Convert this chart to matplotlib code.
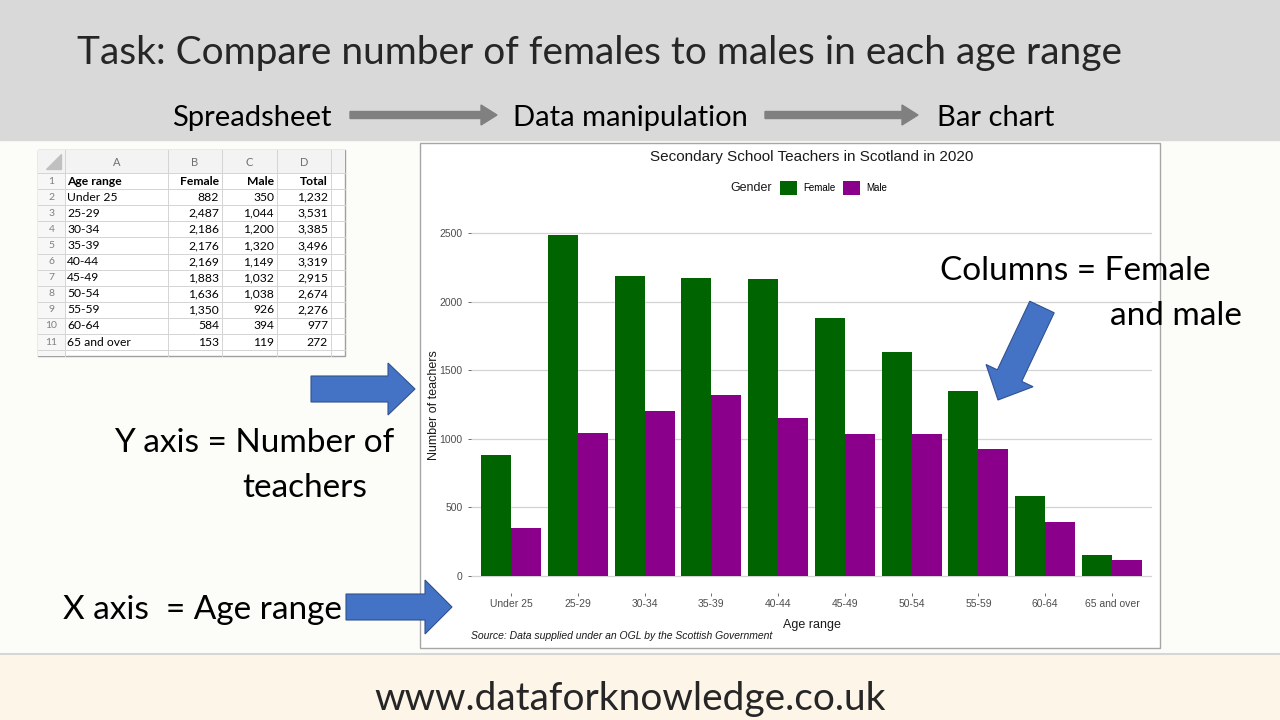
import matplotlib.pyplot as plt
import numpy as np
from matplotlib.patches import Rectangle, FancyArrow, Polygon

# data (from the spreadsheet on the slide)
ages = ['Under 25', '25-29', '30-34', '35-39', '40-44', '45-49',
        '50-54', '55-59', '60-64', '65 and over']
female = [882, 2487, 2186, 2176, 2169, 1883, 1636, 1350, 584, 153]
male = [350, 1044, 1200, 1320, 1149, 1032, 1038, 926, 394, 119]
total = [1232, 3531, 3385, 3496, 3319, 2915, 2674, 2276, 977, 272]

GREEN = '#006400'
PURPLE = '#8B008B'
BLUE = '#4472C4'
SLIDE = 'Lato'
CHART = 'Liberation Sans'

fig = plt.figure(figsize=(12.8, 7.2), dpi=100)

# background layer in pixel coords
bg = fig.add_axes([0, 0, 1, 1], zorder=0)
bg.set_xlim(0, 1280)
bg.set_ylim(720, 0)
bg.axis('off')
bg.add_patch(Rectangle((0, 0), 1280, 720, color='#fcfcf8'))
bg.add_patch(Rectangle((0, 0), 1280, 140, color='#d9d9d9'))
bg.add_patch(Rectangle((0, 654), 1280, 66, color='#fdf6e8'))
bg.plot([0, 1280], [654, 654], color='#d6d6d6', lw=1.5)
# chart box
bg.add_patch(Rectangle((420, 143), 740, 505, facecolor='white', edgecolor='#a6a6a6', lw=1))

# ---- spreadsheet picture ----
sx = [38, 65, 168, 222, 277, 331, 345]
top, hdr, rh = 150, 173, 16.1
nrows = len(ages) + 1
bottom = hdr + nrows * rh + 6
bg.add_patch(Rectangle((38, 150), 307, bottom - 150, facecolor='white', edgecolor='#a0a0a0', lw=1))
bg.add_patch(Rectangle((38, 150), 307, hdr - 150, facecolor='#f3f3f3', edgecolor='none'))
bg.add_patch(Rectangle((38, hdr), 27, bottom - hdr, facecolor='#f7f7f7', edgecolor='none'))
bg.add_patch(Polygon([[61, 154], [61, 169], [46, 169]], color='#c0c0c0'))
for xv in sx[1:-1]:
    bg.plot([xv, xv], [150, bottom], color='#d4d4d4', lw=0.7)
for i in range(nrows + 1):
    yv = hdr + i * rh
    bg.plot([38, 345], [yv, yv], color='#d4d4d4', lw=0.7)
for j, letter in enumerate(['A', 'B', 'C', 'D']):
    bg.text((sx[j + 1] + sx[j + 2]) / 2, 162, letter, ha='center', va='center',
            fontsize=8, color='#707070', family=SLIDE)
rows = [['Age range', 'Female', 'Male', 'Total']]
for a, f, m, t in zip(ages, female, male, total):
    rows.append([a, f'{f:,}', f'{m:,}', f'{t:,}'])
for i, r in enumerate(rows):
    yc = hdr + (i + 0.5) * rh
    w = 'bold' if i == 0 else 'normal'
    bg.text(51.5, yc, str(i + 1), ha='center', va='center', fontsize=7.5, color='#808080', family=SLIDE)
    bg.text(67, yc, r[0], ha='left', va='center', fontsize=8.7, fontweight=w, family=SLIDE)
    for j in range(3):
        bg.text(sx[j + 3] - 3, yc, r[j + 1], ha='right', va='center', fontsize=8.7,
                fontweight=w, family=SLIDE)

# ---- bar chart ----
L, R, B, T = 471, 1152, 593, 218
ax = fig.add_axes([L / 1280, 1 - B / 720, (R - L) / 1280, (B - T) / 720], zorder=1)
x = np.arange(1, len(ages) + 1)
w = 0.45
ax.bar(x - w / 2, female, w, color=GREEN, label='Female', zorder=2)
ax.bar(x + w / 2, male, w, color=PURPLE, label='Male', zorder=2)
ymax = max(female)
ax.set_xlim(0.4, len(ages) + 0.6)
ax.set_ylim(-0.05 * ymax, 1.05 * ymax)
ax.set_yticks([0, 500, 1000, 1500, 2000, 2500])
ax.set_xticks(x)
ax.set_xticklabels(ages)
ax.tick_params(axis='both', colors='#555555', labelsize=7.5, length=2.5, width=0.6)
for lab in ax.get_xticklabels() + ax.get_yticklabels():
    lab.set_family(CHART)
    lab.set_color('#4d4d4d')
ax.tick_params(axis='x', pad=2)
ax.grid(axis='y', color='#d3d3d3', lw=0.9, zorder=0)
ax.set_axisbelow(True)
for s in ax.spines.values():
    s.set_visible(False)
ax.set_ylabel('Number of teachers', fontsize=9, family=CHART, color='#1a1a1a')
ax.yaxis.set_label_coords((440 - L) / (R - L), 0.5)
ax.set_xlabel('Age range', fontsize=9, family=CHART, color='#1a1a1a')
ax.xaxis.set_label_coords(0.5, (B - 619) / (B - T))
ax.text(0.5, (B - 157) / (B - T), 'Secondary School Teachers in Scotland in 2020',
        transform=ax.transAxes, ha='center', va='center', fontsize=11, family=CHART,
        color='#1a1a1a')
leg = ax.legend(ncol=2, loc='center left', bbox_to_anchor=(780 / 1280, 1 - 188 / 720),
                bbox_transform=fig.transFigure, frameon=False,
                handlelength=1.7, handleheight=1.8, handletextpad=0.7,
                columnspacing=0.8, borderpad=0, borderaxespad=0,
                prop={'family': CHART, 'size': 7})
fig.text(772 / 1280, 1 - 188 / 720, 'Gender', ha='right', va='center', fontsize=9,
         family=CHART, color='#1a1a1a')
fig.text(L / 1280, 1 - 636 / 720, 'Source: Data supplied under an OGL by the Scottish Government',
         ha='left', va='center', fontsize=7.5, style='italic', family=CHART, color='#1a1a1a')

# ---- overlay: slide text and arrows ----
ov = fig.add_axes([0, 0, 1, 1], zorder=3)
ov.set_xlim(0, 1280)
ov.set_ylim(720, 0)
ov.axis('off')
ov.patch.set_alpha(0)

ov.text(77, 53, 'Task: Compare number of females to males in each age range', ha='left',
        va='center', fontsize=28, family=SLIDE, color='#262626')
for xs, label in [(172, 'Spreadsheet'), (513, 'Data manipulation'), (937, 'Bar chart')]:
    ov.text(xs, 118, label, ha='left', va='center', fontsize=21, family=SLIDE, color='black')
for x0, x1 in [(350, 497), (765, 918)]:
    ov.add_patch(FancyArrow(x0, 115, x1 - x0, 0, width=7, head_width=20, head_length=16,
                            length_includes_head=True, color='#808080'))

ov.add_patch(FancyArrow(311, 389, 104, 0, width=26, head_width=52, head_length=27,
                        length_includes_head=True, facecolor=BLUE, edgecolor='#2f528f', lw=0.8))
ov.add_patch(FancyArrow(346, 607, 106, 0, width=26, head_width=54, head_length=27,
                        length_includes_head=True, facecolor=BLUE, edgecolor='#2f528f', lw=0.8))
ov.add_patch(FancyArrow(1042, 307, -44, 93, width=27, head_width=52, head_length=27,
                        length_includes_head=True, facecolor=BLUE, edgecolor='#2f528f', lw=0.8))

ov.text(940, 271, 'Columns = Female', ha='left', va='center', fontsize=24, family=SLIDE)
ov.text(1110, 316, 'and male', ha='left', va='center', fontsize=24, family=SLIDE)
ov.text(114, 443, 'Y axis = Number of', ha='left', va='center', fontsize=24, family=SLIDE)
ov.text(242, 488, 'teachers', ha='left', va='center', fontsize=24, family=SLIDE)
ov.text(63, 610, 'X axis  = Age range', ha='left', va='center', fontsize=24, family=SLIDE)
ov.text(630, 699, 'www.dataforknowledge.co.uk', ha='center', va='center', fontsize=28,
        family=SLIDE, color='#262626')

fig.savefig('out.png', dpi=100)
